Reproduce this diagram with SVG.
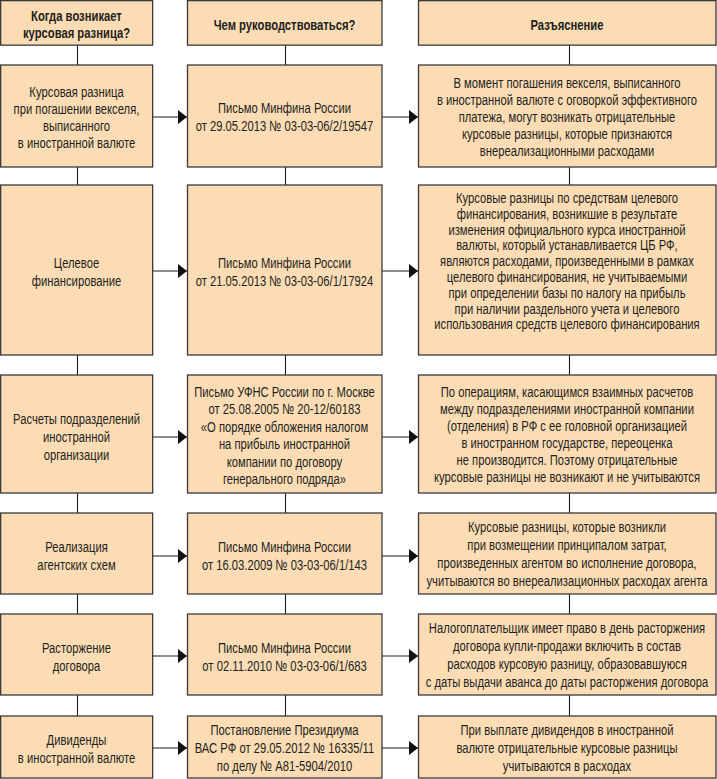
<svg xmlns="http://www.w3.org/2000/svg" width="717" height="779" viewBox="0 0 717 779">
<defs>
<style>
.box{fill:#FCDCB4;stroke:#3a3a3a;stroke-width:1.3}
.t{font-family:"Liberation Sans",Arial,sans-serif;font-size:15px;text-anchor:middle;fill:#231f20}
.h{font-weight:bold}
.ln{stroke:#1a1a1a;stroke-width:1.1;fill:none}
.ar{marker-end:url(#ah)}
</style>
<marker id="ah" markerUnits="userSpaceOnUse" markerWidth="9" markerHeight="14" refX="9" refY="7" orient="auto">
<path d="M0,0 L9,7 L0,14 z" fill="#111"/>
</marker>
</defs>
<rect width="717" height="779" fill="#fff"/>
<g id="connectors">
<path class="ln" d="M77.5,45 V716 M285.5,45 V716 M569.5,45 V716"/>
<path class="ln ar" d="M152.5,117 H187"/>
<path class="ln ar" d="M382,117 H418"/>
<path class="ln ar" d="M152.5,271 H187"/>
<path class="ln ar" d="M382,271 H418"/>
<path class="ln ar" d="M152.5,437 H187"/>
<path class="ln ar" d="M382,437 H418"/>
<path class="ln ar" d="M152.5,556 H187"/>
<path class="ln ar" d="M382,556 H418"/>
<path class="ln ar" d="M152.5,656 H187"/>
<path class="ln ar" d="M382,656 H418"/>
<path class="ln ar" d="M152.5,748 H187"/>
<path class="ln ar" d="M382,748 H418"/>
</g>
<g id="h1"><rect class="box" x="0.65" y="0.65" width="152" height="44.5"/>
<text class="t h" transform="matrix(0.75 0 0 1 76.5 0)"><tspan x="0" y="21">Когда возникает</tspan><tspan x="0" y="38">курсовая разница?</tspan></text></g>
<g id="h2"><rect class="box" x="187.5" y="0.65" width="194.5" height="44.5"/>
<text class="t h" transform="matrix(0.75 0 0 1 284.5 0)"><tspan x="0" y="30">Чем руководствоваться?</tspan></text></g>
<g id="h3"><rect class="box" x="418.5" y="0.65" width="297.5" height="44.5"/>
<text class="t h" transform="matrix(0.75 0 0 1 567 0)"><tspan x="0" y="30">Разъяснение</tspan></text></g>

<g id="r1c1"><rect class="box" x="0.65" y="65" width="152" height="102"/>
<text class="t" transform="matrix(0.75 0 0 1 76.5 0)"><tspan x="0" y="97">Курсовая разница</tspan><tspan x="0" y="114">при погашении векселя,</tspan><tspan x="0" y="131">выписанного</tspan><tspan x="0" y="148">в иностранной валюте</tspan></text></g>
<g id="r1c2"><rect class="box" x="187.5" y="65" width="194.5" height="102"/>
<text class="t" transform="matrix(0.75 0 0 1 284.5 0)"><tspan x="0" y="113">Письмо Минфина России</tspan><tspan x="0" y="131">от 29.05.2013 № 03-03-06/2/19547</tspan></text></g>
<g id="r1c3"><rect class="box" x="418.5" y="65" width="297.5" height="102"/>
<text class="t" transform="matrix(0.75 0 0 1 567 0)"><tspan x="0" y="88">В момент погашения векселя, выписанного</tspan><tspan x="0" y="105">в иностранной валюте с оговоркой эффективного</tspan><tspan x="0" y="122">платежа, могут возникать отрицательные</tspan><tspan x="0" y="139">курсовые разницы, которые признаются</tspan><tspan x="0" y="156">внереализационными расходами</tspan></text></g>

<g id="r2c1"><rect class="box" x="0.65" y="185" width="152" height="170"/>
<text class="t" transform="matrix(0.75 0 0 1 76.5 0)"><tspan x="0" y="268">Целевое</tspan><tspan x="0" y="286">финансирование</tspan></text></g>
<g id="r2c2"><rect class="box" x="187.5" y="185" width="194.5" height="170"/>
<text class="t" transform="matrix(0.75 0 0 1 284.5 0)"><tspan x="0" y="268">Письмо Минфина России</tspan><tspan x="0" y="286">от 21.05.2013 № 03-03-06/1/17924</tspan></text></g>
<g id="r2c3"><rect class="box" x="418.5" y="185" width="297.5" height="170"/>
<text class="t" transform="matrix(0.75 0 0 1 567 0)"><tspan x="0" y="203">Курсовые разницы по средствам целевого</tspan><tspan x="0" y="218.8">финансирования, возникшие в результате</tspan><tspan x="0" y="234.6">изменения официального курса иностранной</tspan><tspan x="0" y="250.4">валюты, который устанавливается ЦБ РФ,</tspan><tspan x="0" y="266.2">являются расходами, произведенными в рамках</tspan><tspan x="0" y="282">целевого финансирования, не учитываемыми</tspan><tspan x="0" y="297.8">при определении базы по налогу на прибыль</tspan><tspan x="0" y="313.6">при наличии раздельного учета и целевого</tspan><tspan x="0" y="329.4">использования средств целевого финансирования</tspan></text></g>

<g id="r3c1"><rect class="box" x="0.65" y="375" width="152" height="118"/>
<text class="t" transform="matrix(0.75 0 0 1 76.5 0)"><tspan x="0" y="424">Расчеты подразделений</tspan><tspan x="0" y="442">иностранной</tspan><tspan x="0" y="460">организации</tspan></text></g>
<g id="r3c2"><rect class="box" x="187.5" y="375" width="194.5" height="118"/>
<text class="t" transform="matrix(0.75 0 0 1 284.5 0)"><tspan x="0" y="397">Письмо УФНС России по г. Москве</tspan><tspan x="0" y="414.5">от 25.08.2005 № 20-12/60183</tspan><tspan x="0" y="432">«О порядке обложения налогом</tspan><tspan x="0" y="449.5">на прибыль иностранной</tspan><tspan x="0" y="467">компании по договору</tspan><tspan x="0" y="484.5">генерального подряда»</tspan></text></g>
<g id="r3c3"><rect class="box" x="418.5" y="375" width="297.5" height="118"/>
<text class="t" transform="matrix(0.75 0 0 1 567 0)"><tspan x="0" y="397">По операциям, касающимся взаимных расчетов</tspan><tspan x="0" y="414">между подразделениями иностранной компании</tspan><tspan x="0" y="431">(отделения) в РФ с ее головной организацией</tspan><tspan x="0" y="448">в иностранном государстве, переоценка</tspan><tspan x="0" y="465">не производится. Поэтому отрицательные</tspan><tspan x="0" y="482">курсовые разницы не возникают и не учитываются</tspan></text></g>

<g id="r4c1"><rect class="box" x="0.65" y="513" width="152" height="81"/>
<text class="t" transform="matrix(0.75 0 0 1 76.5 0)"><tspan x="0" y="552">Реализация</tspan><tspan x="0" y="570">агентских схем</tspan></text></g>
<g id="r4c2"><rect class="box" x="187.5" y="513" width="194.5" height="81"/>
<text class="t" transform="matrix(0.75 0 0 1 284.5 0)"><tspan x="0" y="552">Письмо Минфина России</tspan><tspan x="0" y="570">от 16.03.2009 № 03-03-06/1/143</tspan></text></g>
<g id="r4c3"><rect class="box" x="418.5" y="513" width="297.5" height="81"/>
<text class="t" transform="matrix(0.75 0 0 1 567 0)"><tspan x="0" y="532">Курсовые разницы, которые возникли</tspan><tspan x="0" y="550">при возмещении принципалом затрат,</tspan><tspan x="0" y="568">произведенных агентом во исполнение договора,</tspan><tspan x="0" y="586">учитываются во внереализационных расходах агента</tspan></text></g>

<g id="r5c1"><rect class="box" x="0.65" y="614" width="152" height="81"/>
<text class="t" transform="matrix(0.75 0 0 1 76.5 0)"><tspan x="0" y="653">Расторжение</tspan><tspan x="0" y="671">договора</tspan></text></g>
<g id="r5c2"><rect class="box" x="187.5" y="614" width="194.5" height="81"/>
<text class="t" transform="matrix(0.75 0 0 1 284.5 0)"><tspan x="0" y="653">Письмо Минфина России</tspan><tspan x="0" y="671">от 02.11.2010 № 03-03-06/1/683</tspan></text></g>
<g id="r5c3"><rect class="box" x="418.5" y="614" width="297.5" height="81"/>
<text class="t" transform="matrix(0.75 0 0 1 567 0)"><tspan x="0" y="633">Налогоплательщик имеет право в день расторжения</tspan><tspan x="0" y="651">договора купли-продажи включить в состав</tspan><tspan x="0" y="669">расходов курсовую разницу, образовавшуюся</tspan><tspan x="0" y="687">с даты выдачи аванса до даты расторжения договора</tspan></text></g>

<g id="r6c1"><rect class="box" x="0.65" y="716" width="152" height="62"/>
<text class="t" transform="matrix(0.75 0 0 1 76.5 0)"><tspan x="0" y="745">Дивиденды</tspan><tspan x="0" y="763">в иностранной валюте</tspan></text></g>
<g id="r6c2"><rect class="box" x="187.5" y="716" width="194.5" height="62"/>
<text class="t" transform="matrix(0.75 0 0 1 284.5 0)"><tspan x="0" y="735">Постановление Президиума</tspan><tspan x="0" y="753">ВАС РФ от 29.05.2012 № 16335/11</tspan><tspan x="0" y="771">по делу № А81-5904/2010</tspan></text></g>
<g id="r6c3"><rect class="box" x="418.5" y="716" width="297.5" height="62"/>
<text class="t" transform="matrix(0.75 0 0 1 567 0)"><tspan x="0" y="735">При выплате дивидендов в иностранной</tspan><tspan x="0" y="753">валюте отрицательные курсовые разницы</tspan><tspan x="0" y="771">учитываются в расходах</tspan></text></g>
</svg>
